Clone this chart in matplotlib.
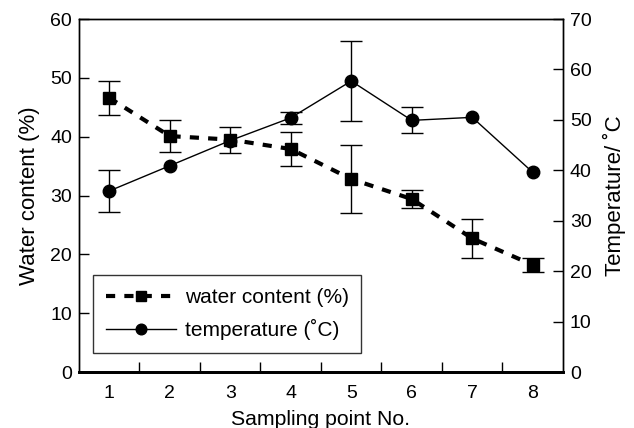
import matplotlib
matplotlib.use("Agg")
import matplotlib.pyplot as plt
from matplotlib.ticker import FixedLocator, NullFormatter

plt.rcParams['font.family'] = ['Liberation Sans', 'DejaVu Sans']

points = [1, 2, 3, 4, 5, 6, 7, 8]
water = [46.6, 40.1, 39.5, 37.9, 32.8, 29.4, 22.7, 18.2]
water_err = [2.9, 2.7, 2.2, 2.9, 5.8, 1.6, 3.3, 1.2]
temp = [35.9, 40.9, 45.9, 50.4, 57.7, 49.9, 50.5, 39.6]
temp_err = [4.2, 0.0, 0.0, 1.2, 7.9, 2.6, 0.0, 0.0]

fig = plt.figure(figsize=(6.34, 4.28), dpi=100)
ax = fig.add_axes([0.1246, 0.1308, 0.7634, 0.8248])
ax2 = ax.twinx()

lw, = ax.plot(points, water, color='black', linestyle=(0, (2.2, 2.2)), linewidth=3,
              marker='s', markersize=8.5, label='water content (%)')
ax.errorbar(points, water, yerr=water_err, fmt='none', ecolor='black',
            elinewidth=1, capsize=8, capthick=1)
lt, = ax2.plot(points, temp, color='black', linestyle='-', linewidth=1,
               marker='o', markersize=9, label='temperature (˚C)')
tp = [p for p, e in zip(points, temp_err) if e > 0]
tv = [v for v, e in zip(temp, temp_err) if e > 0]
te = [e for e in temp_err if e > 0]
ax2.errorbar(tp, tv, yerr=te, fmt='none', ecolor='black',
             elinewidth=1, capsize=8, capthick=1)

ax.set_xlim(0.5, 8.5)
ax.set_ylim(0, 60)
ax2.set_ylim(0, 70)
ax.set_yticks([0, 10, 20, 30, 40, 50, 60])
ax2.set_yticks([0, 10, 20, 30, 40, 50, 60, 70])

ax.set_xticks(points)
ax.set_xticklabels([str(p) for p in points])
ax.tick_params(axis='x', which='major', length=0, labelsize=14, pad=9)
ax.xaxis.set_minor_locator(FixedLocator([1.5, 2.5, 3.5, 4.5, 5.5, 6.5, 7.5]))
ax.xaxis.set_minor_formatter(NullFormatter())
ax.tick_params(axis='x', which='minor', direction='in', length=7, width=1)

ax.tick_params(axis='y', direction='in', length=7, width=1, labelsize=14, pad=5)
ax2.tick_params(axis='y', direction='in', length=7, width=1, labelsize=14, pad=5)

for a in (ax, ax2):
    a.spines['bottom'].set_linewidth(2)
    a.spines['left'].set_linewidth(1)
    a.spines['right'].set_linewidth(1)
    a.spines['top'].set_linewidth(1)

ax.set_xlabel('Sampling point No.', fontsize=15.3, labelpad=6)
ax.set_ylabel('Water content (%)', fontsize=16, labelpad=7)
ax2.set_ylabel('Temperature/ ˚C', fontsize=16, labelpad=8)

leg = ax.legend(handles=[lw, lt], loc='lower left', bbox_to_anchor=(0.029, 0.054),
                borderaxespad=0, fontsize=15, frameon=True, fancybox=False,
                edgecolor='black', handlelength=3.4, borderpad=0.6,
                labelspacing=0.6, handletextpad=0.4, markerscale=0.85)
leg.get_frame().set_linewidth(1)

fig.savefig('out.png', dpi=100)
